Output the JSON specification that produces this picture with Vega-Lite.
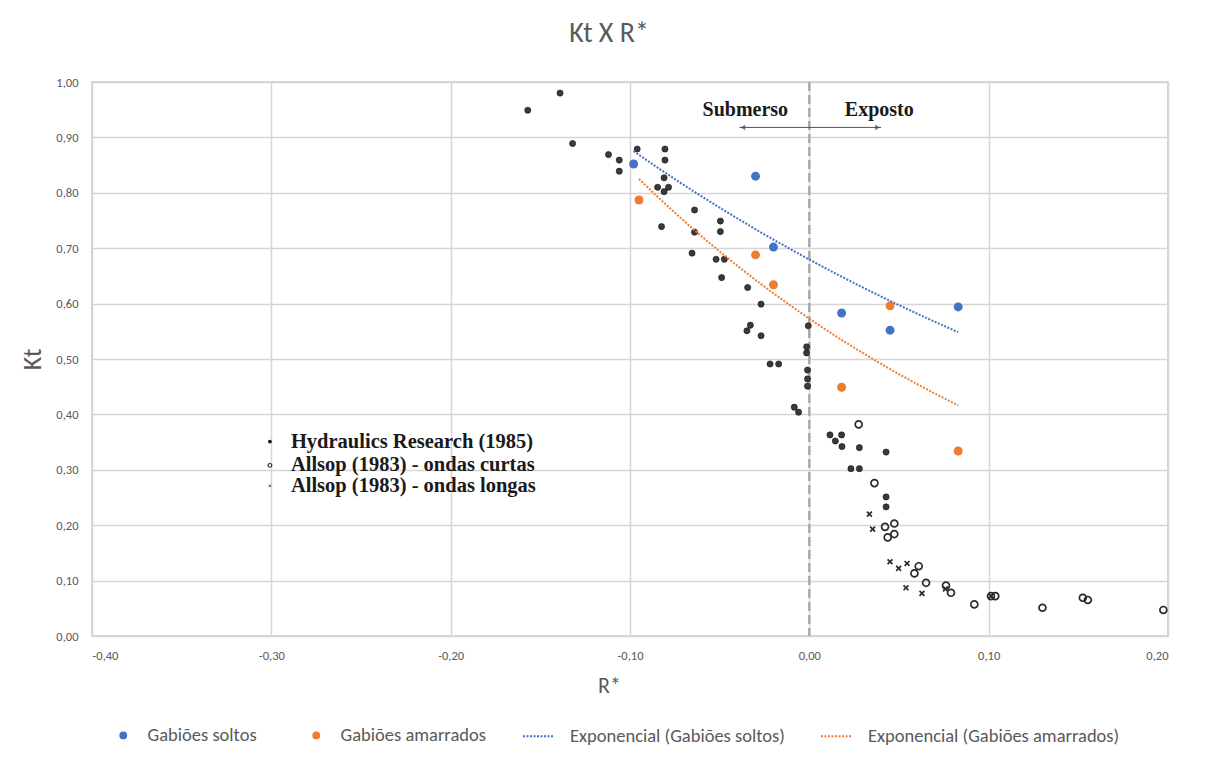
{
  "$schema": "https://vega.github.io/schema/vega-lite/v6.json",
  "width": 1076,
  "height": 554,
  "autosize": {"type": "none"},
  "padding": {"left": 92, "top": 82, "right": 50, "bottom": 122},
  "background": "white",
  "title": {"text": "Kt X R*", "fontSize": 28, "font": "Carlito, Roboto, sans-serif", "fontWeight": "normal", "color": "#595959", "offset": 28, "dx": -21},
  "config": {
    "view": {"stroke": "#c8c8c8", "strokeWidth": 1.5},
    "axis": {"labelFont": "Carlito, Roboto, sans-serif", "labelColor": "#595959", "labelFontSize": 12.5, "titleFont": "Carlito, Roboto, sans-serif", "titleColor": "#595959", "titleFontWeight": "normal", "gridColor": "#d6d6d6", "gridWidth": 1.5, "domain": false, "ticks": false, "tickSize": 0}
  },
  "datasets": {
    "scan": [
      {"R": -0.139, "Kt": 0.980, "fonte": "Hydraulics Research (1985)"},
      {"R": -0.157, "Kt": 0.949, "fonte": "Hydraulics Research (1985)"},
      {"R": -0.132, "Kt": 0.889, "fonte": "Hydraulics Research (1985)"},
      {"R": -0.112, "Kt": 0.869, "fonte": "Hydraulics Research (1985)"},
      {"R": -0.106, "Kt": 0.859, "fonte": "Hydraulics Research (1985)"},
      {"R": -0.106, "Kt": 0.839, "fonte": "Hydraulics Research (1985)"},
      {"R": -0.096, "Kt": 0.879, "fonte": "Hydraulics Research (1985)"},
      {"R": -0.0805, "Kt": 0.879, "fonte": "Hydraulics Research (1985)"},
      {"R": -0.0805, "Kt": 0.859, "fonte": "Hydraulics Research (1985)"},
      {"R": -0.081, "Kt": 0.827, "fonte": "Hydraulics Research (1985)"},
      {"R": -0.0846, "Kt": 0.810, "fonte": "Hydraulics Research (1985)"},
      {"R": -0.0785, "Kt": 0.810, "fonte": "Hydraulics Research (1985)"},
      {"R": -0.081, "Kt": 0.802, "fonte": "Hydraulics Research (1985)"},
      {"R": -0.064, "Kt": 0.769, "fonte": "Hydraulics Research (1985)"},
      {"R": -0.0824, "Kt": 0.739, "fonte": "Hydraulics Research (1985)"},
      {"R": -0.064, "Kt": 0.729, "fonte": "Hydraulics Research (1985)"},
      {"R": -0.0496, "Kt": 0.749, "fonte": "Hydraulics Research (1985)"},
      {"R": -0.0496, "Kt": 0.730, "fonte": "Hydraulics Research (1985)"},
      {"R": -0.0654, "Kt": 0.691, "fonte": "Hydraulics Research (1985)"},
      {"R": -0.052, "Kt": 0.680, "fonte": "Hydraulics Research (1985)"},
      {"R": -0.0474, "Kt": 0.680, "fonte": "Hydraulics Research (1985)"},
      {"R": -0.0489, "Kt": 0.647, "fonte": "Hydraulics Research (1985)"},
      {"R": -0.0344, "Kt": 0.629, "fonte": "Hydraulics Research (1985)"},
      {"R": -0.0269, "Kt": 0.599, "fonte": "Hydraulics Research (1985)"},
      {"R": -0.0329, "Kt": 0.561, "fonte": "Hydraulics Research (1985)"},
      {"R": -0.0348, "Kt": 0.551, "fonte": "Hydraulics Research (1985)"},
      {"R": -0.0269, "Kt": 0.542, "fonte": "Hydraulics Research (1985)"},
      {"R": -0.0006, "Kt": 0.560, "fonte": "Hydraulics Research (1985)"},
      {"R": -0.0015, "Kt": 0.522, "fonte": "Hydraulics Research (1985)"},
      {"R": -0.0015, "Kt": 0.511, "fonte": "Hydraulics Research (1985)"},
      {"R": -0.0219, "Kt": 0.491, "fonte": "Hydraulics Research (1985)"},
      {"R": -0.0171, "Kt": 0.491, "fonte": "Hydraulics Research (1985)"},
      {"R": -0.001, "Kt": 0.480, "fonte": "Hydraulics Research (1985)"},
      {"R": -0.001, "Kt": 0.464, "fonte": "Hydraulics Research (1985)"},
      {"R": -0.001, "Kt": 0.451, "fonte": "Hydraulics Research (1985)"},
      {"R": -0.0084, "Kt": 0.413, "fonte": "Hydraulics Research (1985)"},
      {"R": -0.006, "Kt": 0.404, "fonte": "Hydraulics Research (1985)"},
      {"R": 0.0115, "Kt": 0.363, "fonte": "Hydraulics Research (1985)"},
      {"R": 0.018, "Kt": 0.363, "fonte": "Hydraulics Research (1985)"},
      {"R": 0.0145, "Kt": 0.352, "fonte": "Hydraulics Research (1985)"},
      {"R": 0.0182, "Kt": 0.342, "fonte": "Hydraulics Research (1985)"},
      {"R": 0.0279, "Kt": 0.340, "fonte": "Hydraulics Research (1985)"},
      {"R": 0.0428, "Kt": 0.332, "fonte": "Hydraulics Research (1985)"},
      {"R": 0.0232, "Kt": 0.302, "fonte": "Hydraulics Research (1985)"},
      {"R": 0.0279, "Kt": 0.302, "fonte": "Hydraulics Research (1985)"},
      {"R": 0.0428, "Kt": 0.251, "fonte": "Hydraulics Research (1985)"},
      {"R": 0.0428, "Kt": 0.233, "fonte": "Hydraulics Research (1985)"},
      {"R": 0.0275, "Kt": 0.382, "fonte": "Allsop (1983) - ondas curtas"},
      {"R": 0.0363, "Kt": 0.276, "fonte": "Allsop (1983) - ondas curtas"},
      {"R": 0.0422, "Kt": 0.197, "fonte": "Allsop (1983) - ondas curtas"},
      {"R": 0.0474, "Kt": 0.203, "fonte": "Allsop (1983) - ondas curtas"},
      {"R": 0.0437, "Kt": 0.178, "fonte": "Allsop (1983) - ondas curtas"},
      {"R": 0.0474, "Kt": 0.184, "fonte": "Allsop (1983) - ondas curtas"},
      {"R": 0.061, "Kt": 0.126, "fonte": "Allsop (1983) - ondas curtas"},
      {"R": 0.0586, "Kt": 0.113, "fonte": "Allsop (1983) - ondas curtas"},
      {"R": 0.0651, "Kt": 0.096, "fonte": "Allsop (1983) - ondas curtas"},
      {"R": 0.0762, "Kt": 0.091, "fonte": "Allsop (1983) - ondas curtas"},
      {"R": 0.079, "Kt": 0.078, "fonte": "Allsop (1983) - ondas curtas"},
      {"R": 0.092, "Kt": 0.057, "fonte": "Allsop (1983) - ondas curtas"},
      {"R": 0.1013, "Kt": 0.072, "fonte": "Allsop (1983) - ondas curtas"},
      {"R": 0.1037, "Kt": 0.072, "fonte": "Allsop (1983) - ondas curtas"},
      {"R": 0.130, "Kt": 0.051, "fonte": "Allsop (1983) - ondas curtas"},
      {"R": 0.1525, "Kt": 0.069, "fonte": "Allsop (1983) - ondas curtas"},
      {"R": 0.1553, "Kt": 0.065, "fonte": "Allsop (1983) - ondas curtas"},
      {"R": 0.1974, "Kt": 0.047, "fonte": "Allsop (1983) - ondas curtas"},
      {"R": 0.0335, "Kt": 0.220, "fonte": "Allsop (1983) - ondas longas"},
      {"R": 0.0353, "Kt": 0.193, "fonte": "Allsop (1983) - ondas longas"},
      {"R": 0.045, "Kt": 0.134, "fonte": "Allsop (1983) - ondas longas"},
      {"R": 0.0498, "Kt": 0.122, "fonte": "Allsop (1983) - ondas longas"},
      {"R": 0.0545, "Kt": 0.131, "fonte": "Allsop (1983) - ondas longas"},
      {"R": 0.0539, "Kt": 0.087, "fonte": "Allsop (1983) - ondas longas"},
      {"R": 0.0628, "Kt": 0.077, "fonte": "Allsop (1983) - ondas longas"},
      {"R": 0.0759, "Kt": 0.085, "fonte": "Allsop (1983) - ondas longas"},
      {"R": 0.1013, "Kt": 0.072, "fonte": "Allsop (1983) - ondas longas"}
    ],
    "legendaScan": [
      {"R": -0.3008, "Kt": 0.351, "fonte": "Hydraulics Research (1985)"},
      {"R": -0.3008, "Kt": 0.308, "fonte": "Allsop (1983) - ondas curtas"},
      {"R": -0.3008, "Kt": 0.271, "fonte": "Allsop (1983) - ondas longas"}
    ],
    "rotulos": [
      {"R": -0.0357, "Kt": 0.949, "texto": "Submerso"},
      {"R": 0.039, "Kt": 0.949, "texto": "Exposto"}
    ],
    "setas": [
      {"R": -0.039, "R2": 0.040, "Kt": 0.918}
    ],
    "pontas": [
      {"R": -0.037, "Kt": 0.918, "lado": "esq"},
      {"R": 0.038, "Kt": 0.918, "lado": "dir"}
    ],
    "gabioes": [
      {"serie": "Gabiões soltos", "R": -0.098, "Kt": 0.852},
      {"serie": "Gabiões soltos", "R": -0.030, "Kt": 0.830},
      {"serie": "Gabiões soltos", "R": -0.020, "Kt": 0.702},
      {"serie": "Gabiões soltos", "R": 0.018, "Kt": 0.583},
      {"serie": "Gabiões soltos", "R": 0.045, "Kt": 0.552},
      {"serie": "Gabiões soltos", "R": 0.083, "Kt": 0.594},
      {"serie": "Gabiões amarrados", "R": -0.095, "Kt": 0.787},
      {"serie": "Gabiões amarrados", "R": -0.030, "Kt": 0.688},
      {"serie": "Gabiões amarrados", "R": -0.020, "Kt": 0.634},
      {"serie": "Gabiões amarrados", "R": 0.018, "Kt": 0.449},
      {"serie": "Gabiões amarrados", "R": 0.045, "Kt": 0.596},
      {"serie": "Gabiões amarrados", "R": 0.083, "Kt": 0.334}
    ]
  },
  "encoding": {
    "x": {"field": "R", "type": "quantitative", "scale": {"domain": [-0.4, 0.2], "nice": false, "zero": false},
      "axis": {"title": "R*", "titleFontSize": 22, "titlePadding": 14, "titleX": 517, "values": [-0.4, -0.3, -0.2, -0.1, 0, 0.1, 0.2], "labelPadding": 13, "labelExpr": "replace(replace(format(datum.value,'.2f'),'.',','),'−','-')"}},
    "y": {"field": "Kt", "type": "quantitative", "scale": {"domain": [0, 1], "nice": false},
      "axis": {"title": "Kt", "titleFontSize": 26, "titlePadding": 10, "values": [0, 0.1, 0.2, 0.3, 0.4, 0.5, 0.6, 0.7, 0.8, 0.9, 1.0], "labelPadding": 14, "labelExpr": "replace(format(datum.value,'.2f'),'.',',')"}}
  },
  "layer": [
    {
      "data": {"name": "rotulos"},
      "mark": {"type": "rule", "stroke": "#a8a8a8", "strokeWidth": 2, "strokeDash": [9, 4]},
      "encoding": {"x": {"datum": 0}, "y": null}
    },
    {
      "data": {"name": "setas"},
      "mark": {"type": "rule", "stroke": "#555555", "strokeWidth": 1},
      "encoding": {"x2": {"field": "R2"}}
    },
    {
      "data": {"name": "pontas"},
      "mark": {"type": "point", "filled": true, "fill": "#444444", "size": 30, "strokeWidth": 0},
      "encoding": {"shape": {"field": "lado", "type": "nominal", "scale": {"domain": ["esq", "dir"], "range": ["triangle-left", "triangle-right"]}, "legend": null}}
    },
    {
      "data": {"name": "rotulos"},
      "mark": {"type": "text", "font": "Liberation Serif", "fontWeight": "bold", "fontSize": 20, "color": "#1a1a1a", "align": "center", "baseline": "middle"},
      "encoding": {"text": {"field": "texto"}}
    },
    {
      "data": {"name": "scan"},
      "transform": [{"filter": "datum.fonte === 'Hydraulics Research (1985)'"}],
      "mark": {"type": "point", "filled": true, "fill": "#3a3a3a", "stroke": "#111111", "strokeWidth": 0.6, "size": 38, "opacity": 1}
    },
    {
      "data": {"name": "scan"},
      "transform": [{"filter": "datum.fonte === 'Allsop (1983) - ondas curtas'"}],
      "mark": {"type": "point", "filled": false, "stroke": "#2a2a2a", "strokeWidth": 1.7, "size": 48, "opacity": 1}
    },
    {
      "data": {"name": "scan"},
      "transform": [{"filter": "datum.fonte === 'Allsop (1983) - ondas longas'"}],
      "mark": {"type": "point", "shape": "M-1,-1L1,1M1,-1L-1,1", "filled": false, "stroke": "#2a2a2a", "strokeWidth": 1.7, "size": 24, "opacity": 1}
    },
    {
      "data": {"name": "legendaScan"},
      "mark": {"type": "text", "font": "Liberation Serif", "fontWeight": "bold", "fontSize": 20.5, "color": "#1a1a1a", "align": "left", "baseline": "middle", "dx": 21},
      "encoding": {"text": {"field": "fonte"}}
    },
    {
      "data": {"name": "legendaScan"},
      "transform": [{"filter": "datum.fonte === 'Hydraulics Research (1985)'"}],
      "mark": {"type": "point", "filled": true, "fill": "#111111", "size": 14, "strokeWidth": 0, "opacity": 1}
    },
    {
      "data": {"name": "legendaScan"},
      "transform": [{"filter": "datum.fonte === 'Allsop (1983) - ondas curtas'"}],
      "mark": {"type": "point", "filled": false, "stroke": "#333333", "strokeWidth": 1.2, "size": 14, "opacity": 1}
    },
    {
      "data": {"name": "legendaScan"},
      "transform": [{"filter": "datum.fonte === 'Allsop (1983) - ondas longas'"}],
      "mark": {"type": "point", "shape": "M-1,-1L1,1M1,-1L-1,1", "filled": false, "stroke": "#555555", "strokeWidth": 1, "size": 6, "opacity": 1}
    },
    {
      "data": {"name": "gabioes"},
      "mark": {"type": "point", "filled": true, "size": 80, "opacity": 1, "strokeWidth": 0},
      "encoding": {
        "fill": {"field": "serie", "type": "nominal",
          "scale": {"domain": ["Gabiões soltos", "Gabiões amarrados"], "range": ["#4472C4", "#ED7D31"]},
          "legend": {"title": null, "orient": "none", "legendX": 22, "legendY": 644, "direction": "horizontal", "columns": 2, "columnPadding": 50,
            "labelFont": "Carlito, Roboto, sans-serif", "labelFontSize": 18.5, "labelColor": "#595959", "labelOffset": 15, "labelLimit": 0,
            "symbolType": "circle", "symbolSize": 60, "symbolStrokeWidth": 0, "symbolOpacity": 1}}
      }
    },
    {
      "data": {"name": "gabioes"},
      "transform": [{"filter": "datum.serie === 'Gabiões soltos'"}, {"regression": "Kt", "on": "R", "method": "exp"}],
      "mark": {"type": "line", "strokeDash": [2, 1.5], "strokeWidth": 2},
      "encoding": {"stroke": {"datum": "Exponencial (Gabiões soltos)",
        "scale": {"domain": ["Exponencial (Gabiões soltos)", "Exponencial (Gabiões amarrados)"], "range": ["#4472C4", "#ED7D31"]},
        "legend": {"title": null, "orient": "none", "legendX": 430, "legendY": 638, "direction": "horizontal", "columns": 2, "columnPadding": 32,
          "labelFont": "Carlito, Roboto, sans-serif", "labelFontSize": 18.5, "labelColor": "#595959", "labelOffset": 16, "labelLimit": 0,
          "symbolType": "stroke", "symbolSize": 900, "symbolStrokeWidth": 2, "symbolDash": [2, 1.5]}}}
    },
    {
      "data": {"name": "gabioes"},
      "transform": [{"filter": "datum.serie === 'Gabiões amarrados'"}, {"regression": "Kt", "on": "R", "method": "exp"}],
      "mark": {"type": "line", "strokeDash": [2, 1.5], "strokeWidth": 2},
      "encoding": {"stroke": {"datum": "Exponencial (Gabiões amarrados)"}}
    }
  ]
}
